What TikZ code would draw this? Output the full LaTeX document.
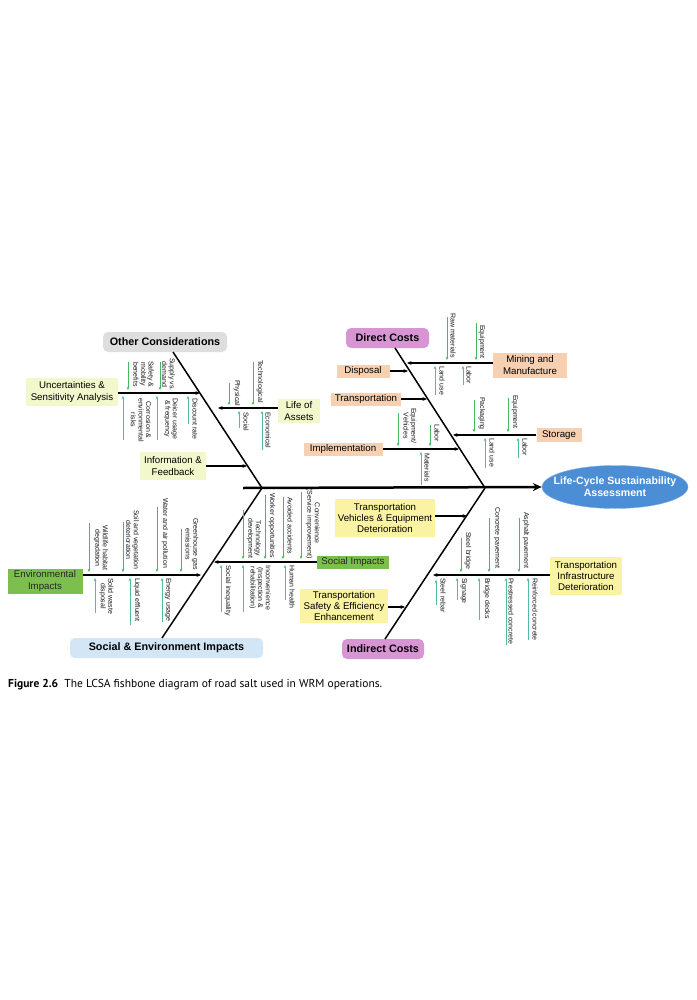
\documentclass[tikz,border=0pt]{standalone}
\usepackage{fontspec}
\setmainfont{Liberation Sans}
\newfontfamily\capfont{PT Sans}
\usetikzlibrary{arrows.meta,shapes.geometric}
\definecolor{gdown}{HTML}{45B865}
\definecolor{gup}{HTML}{52BBA6}
\definecolor{salmon}{HTML}{F7D0B2}
\definecolor{paleyel}{HTML}{F3F7CC}
\definecolor{yelbox}{HTML}{FBF3A4}
\definecolor{greenbox}{HTML}{7DBF4E}
\definecolor{orchidbox}{HTML}{D796D3}
\definecolor{graybox}{HTML}{DEDEDE}
\definecolor{bluebox}{HTML}{D2E6F6}
\definecolor{lcsablue}{HTML}{4B8ED5}
\tikzset{
  bone/.style={line width=1.5pt, black},
  subbone/.style={line width=1.2pt, black},
  tipped/.style={-{Stealth[length=4.5pt,width=3.8pt]}},
  lbl/.style={rotate=-90, anchor=west, font=\fontsize{7}{7.6}\selectfont, inner sep=0pt, align=center, text=black!90},
  ga/.style={line width=1pt, -{Stealth[length=3.2pt,width=2.8pt]}},
  catbox/.style={rounded corners=5pt, font=\bfseries\fontsize{10.8}{12}\selectfont, minimum height=20pt, inner sep=0pt},
  plainbox/.style={font=\fontsize{9.7}{11.2}\selectfont, align=center, inner sep=0pt}
}
\newcommand\blab[4]{\node[lbl] (#1) at (#2,#3) {#4};}
\newcommand\gdn[3]{\draw[ga,color=gdown] (#1,#2) -- (#1,#3);}
\newcommand\gupa[3]{\draw[ga,color=gup] (#1,#2) -- (#1,#3);}
\begin{document}
\begin{tikzpicture}[x=1pt,y=-1pt]
\useasboundingbox[fill=white] (0,0) rectangle (696,1000);

% ---------- category boxes ----------
\node[catbox, fill=graybox, minimum width=124pt] (oc) at (165,342) {Other Considerations};
\node[catbox, fill=orchidbox, minimum width=83pt] (dc) at (387.5,338) {Direct Costs};
\node[catbox, fill=bluebox, minimum width=193pt] (sei) at (166.5,648) {Social \& Environment Impacts};
\node[catbox, fill=orchidbox, minimum width=82pt] (ic) at (383,649) {Indirect Costs};

% ---------- head ----------
\node[ellipse, fill=lcsablue, draw=lcsablue!70, minimum width=146pt, minimum height=43pt, inner sep=0pt] (lcsa) at (615,487) {};
\node[text=white, align=center, inner sep=0pt, font=\bfseries\fontsize{10.6}{12}\selectfont] (lcsatext) at (lcsa.center) {Life-Cycle Sustainability\\Assessment};

% ---------- spine and main bones ----------
\coordinate (sp0) at (243,488);
\coordinate (jl) at (262,488);
\coordinate (jr) at (485,488);
\draw[line width=2.5pt, -{Stealth[length=9pt,width=8pt]}] (sp0) -- (lcsa.west);
\coordinate (octop) at (173,352);
\coordinate (dctop) at (395,348);
\coordinate (seibot) at (162,638);
\coordinate (icbot) at (385,639);
\draw[bone] (octop) -- (jl);
\draw[bone] (dctop) -- (jr);
\draw[bone] (seibot) -- (jl);
\draw[bone] (icbot) -- (jr);

% ---------- Other Considerations ----------
\node[plainbox, fill=paleyel, minimum width=92pt, minimum height=28pt] (unc) at (72,392) {Uncertainties \&\\Sensitivity Analysis};
\coordinate (uncend) at (200,393);
\draw[subbone, tipped] (unc.east |- uncend) -- (uncend);
\blab{l1}{168.5}{358}{Supply vs.\\demand}
\gdn{160}{362}{390}
\blab{l2}{143.5}{361}{Safety \&\\mobility\\benefits}
\gdn{128}{362}{390}
\blab{l3}{195}{398}{Discount rate}
\gupa{188}{424}{396}
\blab{l4}{171}{398}{Deicer usage\\\& frequency}
\gupa{157}{440}{396}
\blab{l5}{141}{398}{Corrosion \&\\environmental\\risks}
\gupa{123}{440}{396}

\node[plainbox, fill=paleyel, minimum width=42pt, minimum height=24pt] (loa) at (299,411) {Life of\\Assets};
\coordinate (loaend) at (218,408);
\draw[subbone, tipped] (loa.west |- loaend) -- (loaend);
\blab{l6}{237}{380}{Physical}
\gdn{229}{383}{405}
\blab{l7}{260}{360}{Technological}
\gdn{253}{362}{405}
\blab{l8}{246}{412}{Social}
\gupa{239}{428}{411}
\blab{l9}{268}{412}{Economical}
\gupa{262}{450}{411}

\node[plainbox, fill=paleyel, minimum width=66pt, minimum height=28pt] (inf) at (173,466) {Information \&\\Feedback};
\coordinate (infend) at (247,466);
\draw[subbone, tipped] (inf.east) -- (infend);

% ---------- Direct Costs ----------
\node[plainbox, fill=salmon, minimum width=74pt, minimum height=25pt] (mm) at (530,365) {Mining and\\Manufacture};
\coordinate (mmend) at (407,363);
\draw[subbone, tipped] (mm.west |- mmend) -- (mmend);
\blab{m1}{453}{313}{Raw materials}
\gdn{447}{317}{360}
\blab{m2}{482}{325}{Equipment}
\gdn{476}{323}{360}
\blab{m3}{442}{366}{Land use}
\gupa{435}{395}{366}
\blab{m4}{469}{366}{Labor}
\gupa{463}{385}{366}

\node[plainbox, fill=salmon, minimum width=53pt, minimum height=13pt] (disp) at (363,371) {Disposal};
\coordinate (dispend) at (408,371);
\draw[subbone, tipped] (disp.east) -- (dispend);

\node[plainbox, fill=salmon, minimum width=70pt, minimum height=13pt] (trans) at (366,399) {Transportation};
\coordinate (transend) at (427,399);
\draw[subbone, tipped] (trans.east) -- (transend);

\node[plainbox, fill=salmon, minimum width=45pt, minimum height=14pt] (stor) at (559,435) {Storage};
\coordinate (storend) at (453,435);
\draw[subbone, tipped] (stor.west) -- (storend);
\blab{s1}{482}{397}{Packaging}
\gdn{474}{400}{432}
\blab{s2}{515}{395}{Equipment}
\gdn{508}{398}{432}
\blab{s3}{492}{438}{Land use}
\gupa{485}{468}{438}
\blab{s4}{525}{438}{Labor}
\gupa{518}{458}{438}

\node[plainbox, fill=salmon, minimum width=79pt, minimum height=13pt] (impl) at (343,449) {Implementation};
\coordinate (implend) at (459,449);
\draw[subbone, tipped] (impl.east) -- (implend);
\blab{i1}{410}{408}{Equipment/\\Vehicles}
\gdn{398}{413}{446}
\blab{i2}{437}{424}{Labor}
\gdn{430}{425}{446}
\blab{i3}{427}{453}{Materials}
\gupa{421}{485}{452}

% ---------- Indirect Costs ----------
\node[plainbox, fill=yelbox, minimum width=100pt, minimum height=38pt] (tved) at (385,518) {Transportation\\Vehicles \& Equipment\\Deterioration};
\coordinate (tvedend) at (467,516);
\draw[subbone, tipped] (tved.east |- tvedend) -- (tvedend);

\node[plainbox, fill=yelbox, minimum width=88pt, minimum height=34pt] (tsee) at (344,606) {Transportation\\Safety \& Efficiency\\Enhancement};
\coordinate (tseeend) at (405,607);
\draw[subbone, tipped] (tsee.east |- tseeend) -- (tseeend);

\node[plainbox, fill=yelbox, minimum width=72pt, minimum height=38pt] (tid) at (586,576) {Transportation\\Infrastructure\\Deterioration};
\coordinate (tidend) at (433,575);
\draw[subbone, tipped] (tid.west |- tidend) -- (tidend);
\blab{t1}{468}{532}{Steel bridge}
\gdn{461}{538}{572}
\blab{t2}{497}{507}{Concrete pavement}
\gdn{489}{518}{572}
\blab{t3}{526}{512}{Asphalt pavement}
\gdn{519}{518}{572}
\blab{t4}{443}{578}{Steel rebar}
\gupa{436}{605}{580}
\blab{t5}{464}{578}{Signage}
\gupa{457}{600}{578}
\blab{t6}{487}{578}{Bridge decks}
\gupa{479}{620}{578}
\blab{t7}{511}{578}{Prestressed concrete}
\gupa{506}{645}{578}
\blab{t8}{535}{578}{Reinforced concrete}
\gupa{528}{640}{578}

% ---------- Social & Environment Impacts ----------
\node[plainbox, fill=greenbox, minimum width=75pt, minimum height=25pt, text=black!85] (env) at (45,581) {Environmental\\Impacts};
\coordinate (envend) at (201,575);
\draw[subbone, tipped] (env.east |- envend) -- (envend);
\blab{e1}{192}{518}{Greenhouse gas\\emissions}
\gdn{181}{529}{572}
\blab{e2}{165}{498}{Water and air pollution}
\gdn{157}{507}{572}
\blab{e3}{132.5}{510}{Soil and vegetation\\deterioration}
\gdn{123}{522}{572}
\blab{e4}{101}{525}{Wildlife habitat\\degradation}
\gdn{89}{523}{572}
\blab{e5}{168}{578}{Energy usage}
\gupa{162}{622}{578}
\blab{e6}{137}{578}{Liquid effluent}
\gupa{130}{625}{578}
\blab{e7}{106.5}{578}{Solid waste\\disposal}
\gupa{95}{613}{578}

\node[plainbox, fill=greenbox, minimum width=72pt, minimum height=13pt, text=black!85] (soc) at (353,562) {Social Impacts};
\coordinate (socend) at (214,562);
\draw[subbone, tipped] (soc.west) -- (socend);
\blab{c1}{313}{488}{Convenience\\(Service improvement)}
\gdn{301}{492}{559}
\blab{c2}{290}{497}{Avoided accidents}
\gdn{283}{497}{559}
\blab{c3}{272}{493}{Worker opportunities}
\gdn{265}{495}{559}
\blab{c4}{254}{518}{Technology\\development}
\gdn{243}{510}{559}
\blab{c5}{292}{565}{Human health}
\gupa{285}{600}{565}
\blab{c6}{260}{565}{Inconvenience\\(Inspection \&\\rehabilitation)}
\gupa{243}{612}{565}
\blab{c7}{228}{565}{Social inequality}
\gupa{221}{612}{565}

% ---------- caption ----------
\node[anchor=west, inner sep=0pt, font=\capfont\fontsize{11.5}{13}\selectfont] (cap) at (8,685) {\textbf{Figure 2.6}\hspace{0.55em}The LCSA fishbone diagram of road salt used in WRM operations.};
\end{tikzpicture}
\end{document}
